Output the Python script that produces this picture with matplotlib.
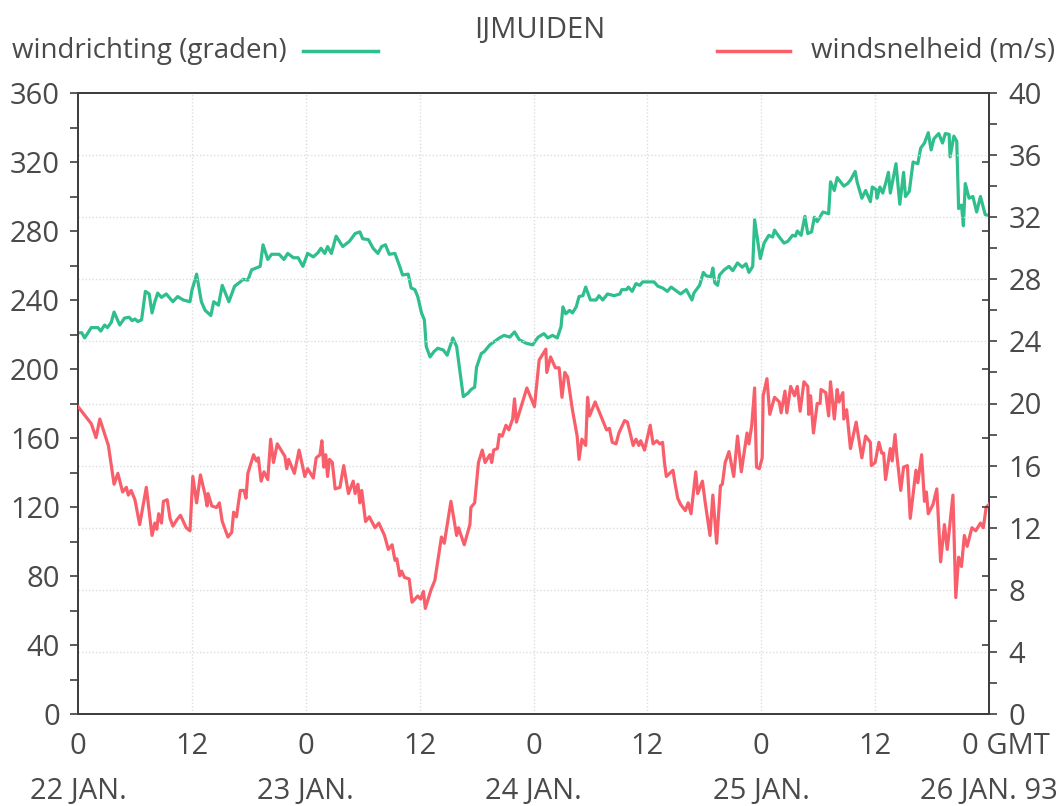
import matplotlib
matplotlib.use("Agg")
import matplotlib.pyplot as plt
from matplotlib.lines import Line2D
from matplotlib.ticker import MultipleLocator
import matplotlib.transforms as mtransforms

# hours since 22 jan 0 GMT, wind direction (degrees)
dir_hours = [0.0, 0.4, 0.7, 1.4, 2.1, 2.4, 2.8, 3.1, 3.5, 3.8, 4.4, 4.9, 5.4, 5.7, 6.0, 6.3, 6.7,
             7.1, 7.5, 7.8, 8.1, 8.4, 8.8, 9.3, 10.0, 10.5, 11.1, 11.8, 12.0, 12.5, 13.0, 13.4,
             14.0, 14.3, 14.8, 15.2, 15.9, 16.5, 17.1, 17.4, 17.9, 18.3, 19.2, 19.5, 20.0, 20.4,
             21.2, 21.7, 22.1, 22.7, 23.2, 23.7, 24.2, 24.8, 25.3, 25.6, 26.0, 26.3, 26.7, 27.2,
             27.9, 28.6, 29.2, 29.7, 30.0, 30.6, 31.1, 31.6, 32.0, 32.4, 32.8, 33.4, 33.9, 34.2,
             34.8, 35.1, 35.5, 35.8, 36.2, 36.5, 36.7, 37.1, 37.5, 37.9, 38.5, 38.9, 39.5, 39.9,
             40.6, 41.1, 41.4, 41.8, 42.0, 42.5, 42.8, 43.4, 43.9, 44.4, 44.9, 45.5, 46.0, 46.5,
             47.2, 47.9, 48.5, 49.1, 49.5, 50.0, 50.5, 50.9, 51.1, 51.4, 51.8, 52.1, 52.5, 52.8,
             53.2, 53.5, 54.0, 54.6, 54.9, 55.3, 55.8, 56.5, 57.1, 57.3, 57.8, 58.0, 58.4, 58.8,
             59.2, 59.5, 60.7, 61.1, 61.6, 62.1, 62.5, 63.0, 63.5, 64.1, 64.7, 64.9, 65.5, 65.9,
             66.2, 66.7, 66.9, 67.1, 67.4, 67.6, 68.1, 68.6, 69.0, 69.5, 70.0, 70.4, 70.7, 71.1,
             71.3, 71.9, 72.3, 72.8, 73.2, 73.4, 73.9, 74.4, 74.8, 75.3, 75.6, 75.8, 76.2, 76.6,
             76.9, 77.3, 77.6, 77.9, 78.5, 79.1, 79.3, 79.7, 80.0, 80.7, 81.1, 81.4, 81.9, 82.1,
             82.6, 83.0, 83.5, 83.7, 84.1, 84.2, 84.5, 84.8, 85.1, 85.4, 85.6, 86.2, 86.6, 87.0,
             87.2, 87.6, 88.0, 88.5, 88.8, 89.2, 89.6, 89.9, 90.2, 90.7, 91.1, 91.4, 91.8, 91.9,
             92.3, 92.6, 92.8, 93.1, 93.3, 93.5, 93.9, 94.3, 94.7, 95.1, 95.6, 96.0]
direction = [221, 221, 218, 224, 224, 222, 225.5, 224, 227, 233, 225.5, 229.5, 230, 228, 229, 227.5, 228.5,
             245, 243.5, 232.5, 239, 244, 241.5, 243.5, 239, 242, 240, 239, 245.5, 255, 239, 234,
             231, 239, 237, 248.5, 239, 248, 250.5, 252, 251.5, 257.5, 259.5, 272, 263.5, 266.5,
             266.5, 263.5, 267, 264.5, 264.5, 259.5, 267, 265, 267.5, 270, 267, 271, 267, 277,
             271, 274, 278.5, 279.5, 275.5, 275, 270, 267, 271, 272, 266.5, 267, 259.5, 254.5,
             255, 247, 246, 242, 232.5, 228.5, 213, 207, 210, 212, 211, 208, 218, 213,
             184, 186, 188, 189.5, 201, 209, 210, 214, 216, 218, 219.5, 218.5, 221.5, 217,
             215, 214, 218.5, 220.5, 218, 219.5, 218, 224.5, 236, 232, 234, 232.5, 236, 242,
             242.5, 247.5, 240, 240, 242.5, 240, 243.5, 242.5, 243.5, 246, 246, 247.5, 245, 249.5,
             248.5, 250.5, 250.5, 248, 247, 245, 247.5, 245.5, 243.5, 246, 240, 244, 248.5, 256,
             254, 253.5, 258.5, 250, 248.5, 254.5, 257.5, 259.5, 257, 261.5, 259, 261, 256, 259.5,
             286.5, 264, 273, 277.5, 276.5, 280.5, 276.5, 273, 274, 277.5, 277, 280, 277.5, 288.5,
             278.5, 279.5, 288, 285.5, 291, 290, 308.5, 303.5, 311, 306, 307.5, 309.5, 314.5, 308.5,
             299, 303.5, 297, 305.5, 304, 299, 305.5, 302, 307.5, 314, 302, 319, 295.5, 314,
             300, 303, 320, 319, 328, 331, 337, 327, 333.5, 336.5, 331, 336.5, 336, 323,
             335, 332, 293, 295, 283, 307.5, 299, 300, 291, 300, 289.5, 289]

# wind speed (m/s)
speed_hours = [0.0, 1.4, 1.9, 2.3, 3.2, 3.8, 4.2, 4.7, 5.1, 5.3, 5.6, 6.0, 6.5, 7.2, 7.8, 8.1, 8.3,
               8.5, 8.8, 9.0, 9.4, 9.7, 10.0, 10.4, 10.8, 11.4, 11.8, 12.1, 12.5, 12.9, 13.4, 13.6,
               13.7, 14.1, 14.6, 14.9, 15.2, 15.8, 16.2, 16.4, 16.7, 17.1, 17.5, 17.7, 17.9, 18.5,
               18.8, 19.0, 19.3, 19.6, 20.0, 20.3, 20.6, 21.0, 21.8, 22.0, 22.2, 22.8, 23.3, 23.9,
               24.2, 24.8, 25.1, 25.5, 25.7, 25.9, 26.1, 26.3, 26.5, 26.8, 27.1, 27.6, 28.0, 28.5,
               29.0, 29.2, 29.5, 29.7, 29.9, 30.3, 30.7, 31.3, 31.7, 32.3, 32.7, 33.1, 33.4, 33.6,
               33.9, 34.1, 34.4, 34.9, 35.2, 35.8, 36.1, 36.4, 36.6, 37.2, 37.6, 38.3, 38.6, 39.3,
               39.9, 40.1, 40.7, 41.3, 41.4, 41.8, 42.2, 42.6, 42.9, 43.4, 43.6, 43.8, 44.2, 44.4,
               44.7, 45.1, 45.4, 45.8, 46.0, 46.2, 46.5, 47.3, 48.1, 48.6, 49.3, 49.4, 49.8, 50.3,
               50.7, 51.0, 51.3, 51.6, 52.1, 52.6, 52.8, 53.1, 53.5, 53.7, 53.9, 54.5, 55.1, 55.7,
               56.0, 56.3, 56.7, 57.0, 57.6, 57.9, 58.5, 58.8, 59.1, 59.3, 59.7, 60.3, 60.6, 61.0,
               61.3, 61.6, 61.8, 62.0, 62.7, 62.9, 63.2, 63.5, 64.0, 64.3, 64.6, 65.1, 65.3, 65.8,
               66.1, 66.6, 66.9, 67.3, 67.7, 67.9, 68.2, 68.6, 69.1, 69.5, 69.9, 70.5, 70.7, 71.0,
               71.3, 71.5, 71.8, 72.1, 72.2, 72.6, 72.9, 73.4, 73.9, 74.1, 74.5, 74.7, 75.1, 75.5,
               75.8, 76.1, 76.5, 76.9, 77.0, 77.2, 77.5, 77.9, 78.2, 78.3, 78.8, 79.1, 79.3, 79.7,
               80.0, 80.2, 80.6, 80.7, 81.0, 81.4, 82.0, 82.6, 83.0, 83.5, 83.6, 84.0, 84.4, 84.7,
               84.9, 85.1, 85.6, 85.8, 86.1, 86.3, 86.7, 87.0, 87.4, 87.7, 88.3, 88.5, 88.9, 89.2,
               89.4, 89.6, 90.1, 90.5, 90.7, 90.9, 91.3, 91.6, 92.2, 92.5, 92.8, 93.1, 93.4, 93.7,
               94.2, 94.6, 95.1, 95.4, 95.7, 96.0]
speed = [19.8, 18.7, 17.8, 19.0, 17.3, 14.8, 15.5, 14.3, 14.6, 14.1, 14.4, 13.8, 12.2, 14.6, 11.5, 12.3, 11.9,
         12.9, 12.3, 13.7, 13.8, 12.6, 12.1, 12.5, 12.8, 12.0, 11.8, 15.3, 13.6, 15.4, 14.1, 13.4,
         14.2, 13.4, 13.3, 13.6, 12.4, 11.4, 11.7, 13.0, 12.7, 14.4, 14.4, 13.9, 15.5, 16.7,
         16.3, 16.5, 15.0, 15.6, 15.1, 17.7, 16.2, 17.4, 16.6, 15.8, 16.4, 15.5, 17.0, 15.3,
         15.8, 15.2, 16.5, 16.7, 17.6, 15.9, 16.7, 15.3, 16.4, 16.2, 14.5, 14.6, 16.0, 14.2,
         15.0, 14.2, 14.8, 13.6, 14.4, 12.4, 12.7, 12.0, 12.3, 11.5, 10.6, 10.9, 9.9, 10.0,
         8.9, 9.2, 8.8, 8.7, 7.2, 7.6, 7.4, 7.9, 6.8, 8.0, 8.6, 11.4, 11.0, 13.7,
         11.5, 12.0, 10.9, 12.2, 13.3, 13.6, 16.2, 17.0, 16.2, 16.7, 16.2, 17.0, 17.1, 18.0,
         17.9, 18.6, 18.3, 19.0, 20.3, 18.8, 19.4, 21.0, 19.8, 22.8, 23.5, 22.0, 23.0, 22.3,
         22.3, 20.4, 22.0, 21.7, 19.6, 17.9, 16.4, 17.7, 17.3, 20.4, 19.2, 20.1, 19.2, 18.3,
         18.4, 17.5, 17.4, 18.1, 18.9, 18.8, 17.3, 17.7, 17.3, 17.6, 17.0, 18.6, 17.4, 17.6,
         17.4, 17.5, 16.2, 15.3, 15.7, 14.9, 13.9, 13.5, 13.1, 13.6, 12.9, 15.6, 14.2, 15.0,
         13.6, 11.5, 14.1, 11.0, 14.7, 14.8, 16.2, 16.9, 15.3, 17.9, 15.6, 18.1, 17.4, 18.6,
         21.0, 15.9, 15.8, 16.5, 20.5, 21.6, 19.3, 20.4, 20.1, 19.4, 20.8, 19.4, 21.1, 20.5,
         21.1, 19.5, 21.4, 21.1, 19.3, 20.5, 18.1, 20.0, 20.0, 20.9, 20.7, 19.2, 21.4, 19.0,
         20.9, 20.1, 20.7, 19.0, 19.6, 17.1, 18.8, 16.5, 17.9, 17.5, 16.0, 16.2, 17.5, 16.8,
         16.8, 15.1, 17.1, 16.3, 18.0, 16.6, 14.4, 15.9, 16.0, 12.6, 15.7, 14.9, 16.7, 13.7,
         14.3, 12.9, 13.5, 14.5, 12.2, 9.8, 12.2, 10.6, 14.1, 7.5, 10.1, 9.5, 11.5, 10.8,
         12.0, 11.8, 12.3, 12.0, 13.3, 13.5]

hour_ticks = [0, 12, 24, 36, 48, 60, 72, 84, 96]
hour_labels = ["0", "12", "0", "12", "0", "12", "0", "12", "0 GMT"]
day_ticks = [0, 24, 48, 72, 96]
day_labels = ["22 JAN.", "23 JAN.", "24 JAN.", "25 JAN.", "26 JAN. 93"]

GREEN = "#2fbf8c"
RED = "#f85f6b"
TXT = "#4a4a4a"
SPINE = "#3f3f3f"

plt.rcParams["font.family"] = ["Open Sans", "DejaVu Sans"]
plt.rcParams["font.size"] = 20

fig = plt.figure(figsize=(10.61, 8.06), dpi=100)
ax = fig.add_axes([78 / 1061, 1 - 714 / 806, (989 - 78) / 1061, (714 - 93) / 806])
ax2 = ax.twinx()
ax3 = ax.twinx()

ax.set_xlim(0, 96)
ax.set_ylim(0, 360)
ax2.set_ylim(0, 40)
ax3.set_ylim(0, 360)

# grid: verticals every 12 h, horizontals on the m/s ticks
for h in hour_ticks[1:-1]:
    ax.axvline(h, color="#dddddd", lw=1, ls=(0, (1, 1.5)), zorder=0)
for v in range(4, 40, 4):
    ax2.axhline(v, color="#dddddd", lw=1, ls=(0, (1, 1.5)), zorder=0)

ax.plot(dir_hours, direction, color=GREEN, lw=2.3, zorder=3, solid_joinstyle="round")
ax2.plot(speed_hours, speed, color=RED, lw=2.3, zorder=3, solid_joinstyle="round")

for a in (ax, ax2, ax3):
    for s in a.spines.values():
        s.set_color(SPINE)
        s.set_linewidth(1.4)
ax3.spines[:].set_visible(False)

ax.set_xticks(hour_ticks)
ax.set_xticklabels(hour_labels, fontsize=21)
ax.tick_params(axis="x", length=0, pad=13, labelcolor=TXT)
lab = ax.get_xticklabels()[-1]
lab.set_transform(lab.get_transform() + mtransforms.ScaledTranslation(17 / 100, 0, fig.dpi_scale_trans))

ax.yaxis.set_major_locator(MultipleLocator(40))
ax.yaxis.set_minor_locator(MultipleLocator(20))
ax.tick_params(axis="y", which="both", direction="out", length=6, width=1.2, color=SPINE,
               pad=7, labelcolor=TXT, labelsize=21)

ax2.yaxis.set_major_locator(MultipleLocator(4))
ax2.yaxis.set_minor_locator(MultipleLocator(2))
ax2.tick_params(axis="y", which="both", direction="out", length=6, width=1.2, color=SPINE,
                pad=8, labelcolor=TXT, labelsize=21)

# small inward marks on the right spine for the degree scale
ax3.set_yticks(range(40, 360, 40))
ax3.tick_params(axis="y", direction="in", length=5, width=1.2, color=SPINE, labelright=False)

trans = ax.get_xaxis_transform()
for d, txt in zip(day_ticks, day_labels):
    ax.text(d, -0.125, txt, transform=trans, ha="center", va="center", color=TXT, fontsize=21)

# header: title and legend keys
fig.text(0.509, 0.953, "IJMUIDEN", ha="center", va="baseline", color=TXT, fontsize=21)
fig.text(12 / 1061, 1 - 58 / 806, "windrichting (graden)", ha="left", va="baseline", color=TXT)
fig.add_artist(Line2D([303 / 1061, 378 / 1061], [1 - 51 / 806] * 2, color=GREEN, lw=2.5))
fig.add_artist(Line2D([717 / 1061, 790 / 1061], [1 - 51 / 806] * 2, color=RED, lw=2.5))
fig.text(1055 / 1061, 1 - 58 / 806, "windsnelheid (m/s)", ha="right", va="baseline", color=TXT)

fig.savefig("out.png", dpi=100)
